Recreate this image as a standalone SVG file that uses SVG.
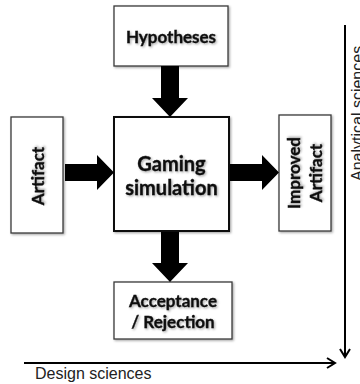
<svg xmlns="http://www.w3.org/2000/svg" width="360" height="384" viewBox="0 0 360 384">
  <defs>
    <filter id="shade" x="-10%" y="-10%" width="130%" height="130%">
      <feDropShadow dx="1.2" dy="1.2" stdDeviation="0.9" flood-color="#000" flood-opacity="0.35"/>
    </filter>
    <marker id="chev" viewBox="0 0 12 12" refX="10.5" refY="6" markerWidth="12" markerHeight="12" orient="auto" markerUnits="userSpaceOnUse">
      <path d="M2.5,1 L10.5,6 L2.5,11" fill="none" stroke="#000" stroke-width="2"/>
    </marker>
  </defs>
  <style>
    .box { fill: #fff; stroke: #3a3a3a; stroke-width: 1.3; filter: url(#shade); }
    .core { fill: #fff; stroke: #111; stroke-width: 2; filter: url(#shade); }
    .lbl { font-family: Lato, "Open Sans", "DejaVu Sans", sans-serif; font-weight: bold; font-size: 17px; fill: #111; stroke: #111; stroke-width: 0.35; text-anchor: middle; filter: url(#shade); }
    .big { font-size: 20px; }
    .blk { fill: #000; }
    .axis { stroke: #000; stroke-width: 2; fill: none; }
    .axlbl { font-family: "Liberation Sans", Arial, sans-serif; font-size: 16px; fill: #222; }
  </style>

  <g id="hypotheses">
    <rect class="box" x="114" y="6" width="114" height="60"/>
    <text class="lbl" x="171" y="43">Hypotheses</text>
  </g>

  <g id="gaming-simulation">
    <rect class="core" x="114" y="117" width="115" height="114"/>
    <text class="lbl big" x="171.5" y="171">Gaming</text>
    <text class="lbl big" x="171.5" y="195">simulation</text>
  </g>

  <g id="artifact">
    <rect class="box" x="11" y="117" width="52" height="116"/>
    <text class="lbl" transform="translate(44,176) rotate(-90)" x="0" y="0">Artifact</text>
  </g>

  <g id="improved-artifact">
    <rect class="box" x="279" y="115" width="52" height="116"/>
    <text class="lbl" transform="translate(300,173) rotate(-90)" x="0" y="0">Improved</text>
    <text class="lbl" transform="translate(322,173) rotate(-90)" x="0" y="0">Artifact</text>
  </g>

  <g id="acceptance-rejection">
    <rect class="box" x="114" y="282" width="118" height="57"/>
    <text class="lbl" x="173" y="307">Acceptance</text>
    <text class="lbl" x="173" y="328">/ Rejection</text>
  </g>

  <g id="connectors">
    <polygon class="blk" points="161,66 179,66 179,98 188,98 170,117 152,98 161,98"/>
    <polygon class="blk" points="65,164 97,164 97,155 114,172.5 97,190 97,181 65,181"/>
    <polygon class="blk" points="230,164 262,164 262,155 279,172.5 262,190 262,181 230,181"/>
    <polygon class="blk" points="161,232 179,232 179,263 188,263 170,282 152,263 161,263"/>
  </g>

  <g id="axes">
    <line class="axis" x1="24" y1="363" x2="335" y2="363" marker-end="url(#chev)"/>
    <text class="axlbl" x="35" y="379">Design sciences</text>
    <line class="axis" x1="345" y1="25" x2="345" y2="357" marker-end="url(#chev)"/>
    <text class="axlbl" transform="translate(363,181) rotate(-90)" x="0" y="0">Analytical sciences</text>
  </g>
</svg>
